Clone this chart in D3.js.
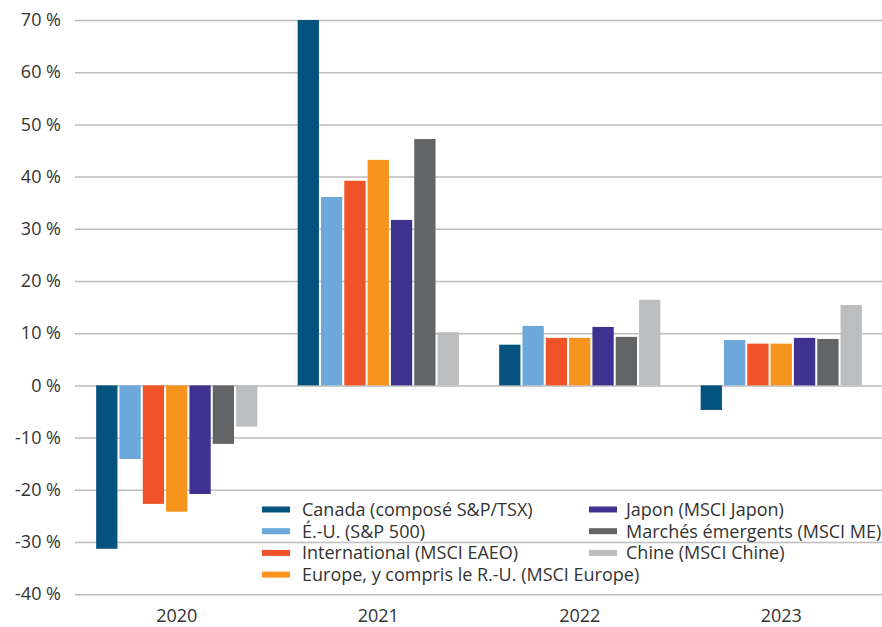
<!DOCTYPE html>
<html>
<head>
<meta charset="utf-8">
<script src="https://cdn.jsdelivr.net/npm/d3@7"></script>
<style>
  body { margin: 0; background: #fff; }
  text { font-family: "Open Sans", "Noto Sans", sans-serif; }
</style>
</head>
<body>
<script>
// annual returns by market, %
var years = ["2020", "2021", "2022", "2023"];
var seriesNames = [
    "Canada (composé S&P/TSX)",
    "É.-U. (S&P 500)",
    "International (MSCI EAEO)",
    "Europe, y compris le R.-U. (MSCI Europe)",
    "Japon (MSCI Japon)",
    "Marchés émergents (MSCI ME)",
    "Chine (MSCI Chine)"
];
var canada   = [-31.3, 70.0, 7.8, -4.7];
var usa      = [-14.1, 36.1, 11.4, 8.7];
var intl     = [-22.7, 39.2, 9.1, 8.0];
var europe   = [-24.2, 43.2, 9.1, 8.0];
var japan    = [-20.8, 31.7, 11.2, 9.1];
var emerging = [-11.2, 47.2, 9.3, 8.9];
var china    = [-7.9, 10.2, 16.4, 15.4];
var colors = ["#04537f", "#6ca8da", "#f05328", "#f7941e", "#3f3190", "#636466", "#bcbdbf"];
var yTicks = [-40, -30, -20, -10, 0, 10, 20, 30, 40, 50, 60, 70];

var allSeries = [canada, usa, intl, europe, japan, emerging, china];

var width = 882, height = 627;
var svg = d3.select("body").append("svg")
    .attr("width", width)
    .attr("height", height);

//__scales__//
var x0 = d3.scaleBand()
    .domain(years)
    .range([76, 882])
    .paddingInner(0.2)
    .paddingOuter(0.1);

var x1 = d3.scaleBand()
    .domain(d3.range(seriesNames.length))
    .range([0, x0.bandwidth()])
    .paddingInner(0.087);

var y = d3.scaleLinear()
    .domain([-40, 70])
    .range([594.2, 20]);

//__gridlines + y labels__//
var yAxis = d3.axisLeft(y)
    .tickValues(yTicks)
    .tickSize(-(882 - 75))
    .tickPadding(14)
    .tickFormat(function(d) { return d + " %"; });

var gy = svg.append("g")
    .attr("transform", "translate(75,0)")
    .call(yAxis);
gy.select(".domain").remove();
gy.selectAll(".tick line")
    .attr("stroke", "#bdbdbd")
    .attr("stroke-width", 1.5);
gy.selectAll(".tick text")
    .attr("fill", "#333")
    .style("font-size", "18px")
    .attr("font-family", "Open Sans, sans-serif");

//__bars__//
var groups = svg.selectAll("g.year")
    .data(years)
    .enter().append("g")
    .attr("class", "year")
    .attr("transform", function(d) { return "translate(" + x0(d) + ",0)"; });

groups.selectAll("rect")
    .data(function(d, i) { return allSeries.map(function(s, k) { return {k: k, v: s[i]}; }); })
    .enter().append("rect")
    .attr("x", function(d) { return x1(d.k); })
    .attr("width", x1.bandwidth())
    .attr("y", function(d) { return y(Math.max(0, d.v)); })
    .attr("height", function(d) { return Math.abs(y(d.v) - y(0)); })
    .attr("fill", function(d) { return colors[d.k]; });

//__x labels__//
var xAxis = d3.axisBottom(x0).tickSize(0).tickPadding(15);
var gx = svg.append("g")
    .attr("transform", "translate(0," + y(-40) + ")")
    .call(xAxis);
gx.select(".domain").remove();
gx.selectAll(".tick text")
    .attr("fill", "#333")
    .style("font-size", "18px")
    .attr("font-family", "Open Sans, sans-serif");

//__legend__//
// two columns: first four, then last three
var legend = svg.append("g");
var item = legend.selectAll("g")
    .data(seriesNames)
    .enter().append("g")
    .attr("transform", function(d, i) {
        var col = i < 4 ? 0 : 1, row = i < 4 ? i : i - 4;
        return "translate(" + (col === 0 ? 262 : 589) + "," + (509.5 + row * 21.7) + ")";
    });
item.append("rect")
    .attr("x", 0)
    .attr("y", -3)
    .attr("width", 28)
    .attr("height", 6)
    .attr("fill", function(d, i) { return colors[i]; });
item.append("text")
    .attr("x", function(d, i) { return i < 4 ? 40 : 37; })
    .attr("dy", "0.35em")
    .attr("fill", "#333")
    .style("font-size", "18px")
    .text(function(d) { return d; });
</script>
</body>
</html>
